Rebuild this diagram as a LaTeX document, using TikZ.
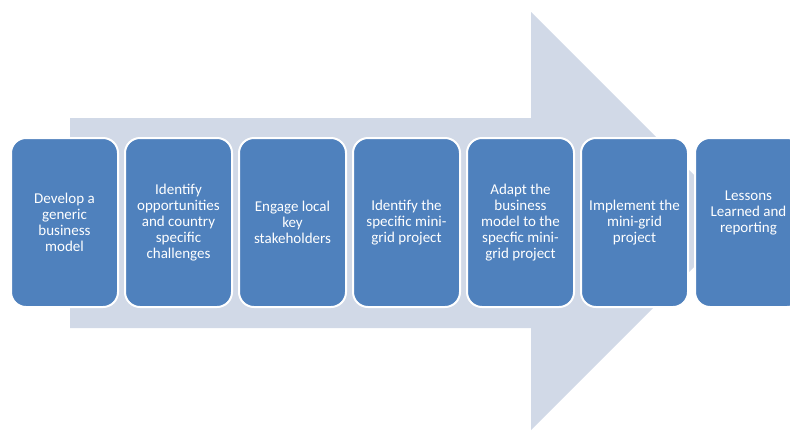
\documentclass[tikz,border=0pt]{standalone}
\usepackage{fontspec}
\setmainfont{Carlito}
\definecolor{stageblue}{HTML}{4F81BD}
\definecolor{arrowgray}{HTML}{D1D9E7}
\begin{document}
\begin{tikzpicture}[x=1pt,y=-1pt,
  stage/.style={draw=white, line width=2pt, fill=stageblue,
    rounded corners=15pt, minimum width=107pt, minimum height=169pt,
    text=white, align=center, inner sep=0pt,
    font=\fontsize{15}{16}\selectfont}]
\useasboundingbox (0,0) rectangle (790,432);
% large block arrow behind the stages
\fill[arrowgray] (70,118) -- (531,118) -- (531,12) -- (740,221)
  -- (531,430) -- (531,328) -- (70,328) -- cycle;
% process stages
\node[stage] (s1) at (64.5,222.5) {Develop a\\generic\\business\\model};
\node[stage] (s2) at (178.5,222.5) {Identify\\opportunities\\and country\\specific\\challenges};
\node[stage] (s3) at (292.5,222.5) {Engage local\\key\\stakeholders};
\node[stage] (s4) at (406.5,222.5) {Identify the\\specific mini-\\grid project};
\node[stage] (s5) at (520.5,222.5) {Adapt the\\business\\model to the\\specfic mini-\\grid project};
\node[stage] (s6) at (634.5,222.5) {Implement the\\mini-grid\\project};
\node[stage] (s7) at (748.5,222.5) {Lessons\\Learned and\\reporting\\[6pt]\mbox{}};
\end{tikzpicture}
\end{document}
